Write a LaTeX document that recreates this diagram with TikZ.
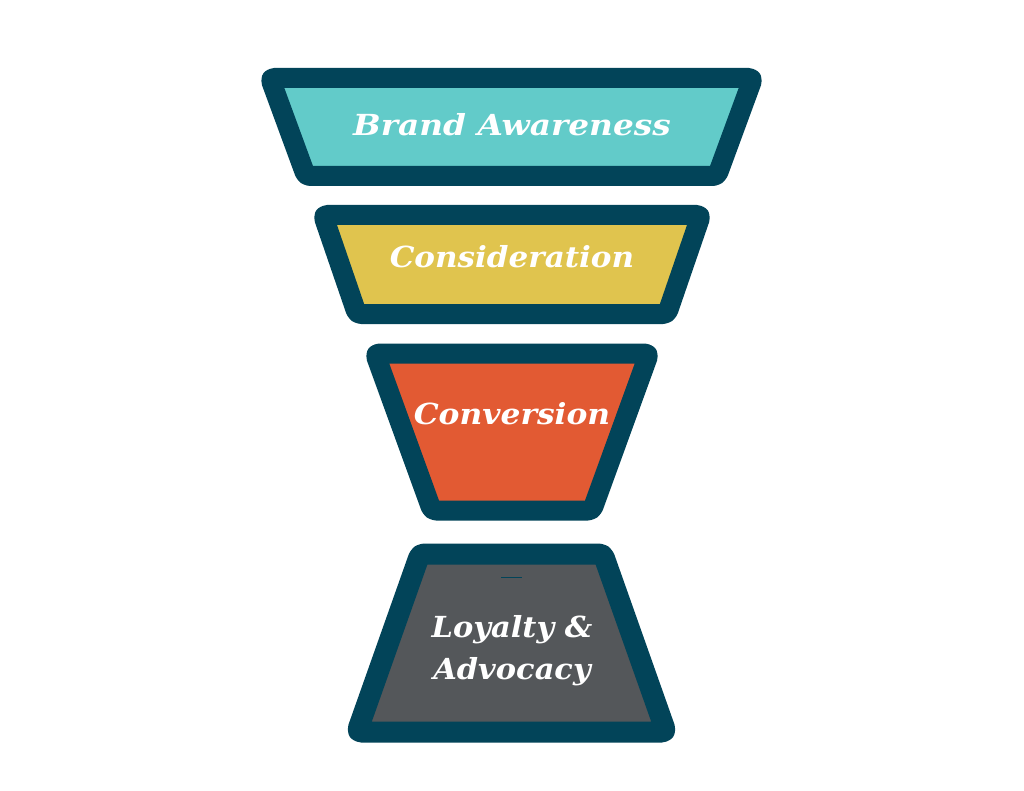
\documentclass[tikz,border=0pt]{standalone}
\usepackage{fontspec}
\newfontfamily\funnelfont{DejaVu Serif}
\definecolor{navy}{RGB}{2,68,89}
\definecolor{tealc}{RGB}{98,203,201}
\definecolor{yellowc}{RGB}{224,196,78}
\definecolor{orangec}{RGB}{226,90,51}
\definecolor{greyc}{RGB}{84,87,90}
\tikzset{
  stage/.style={draw=navy, line width=20pt, line join=round, rounded corners=4pt},
  label/.style={text=white, font=\funnelfont\bfseries\itshape\fontsize{29}{34}\selectfont, inner sep=0pt, align=center}
}
\begin{document}
\begin{tikzpicture}[x=1pt,y=-1pt]
\useasboundingbox (0,0) rectangle (1024,791);
\fill[white] (0,0) rectangle (1024,791);
% stage 1
\draw[stage, fill=tealc] (270,78) -- (753,78) -- (717,176) -- (306,176) -- cycle;
\node[label] (t1) at (512,125) {\scalebox{1.13}[1]{Brand Awareness}};
% stage 2
\draw[stage, fill=yellowc] (323,215) -- (701,215) -- (667,314) -- (357,314) -- cycle;
\node[label] (t2) at (512,257) {\scalebox{1.07}[1]{Consideration}};
% stage 3
\draw[stage, fill=orangec] (375,353.5) -- (649,353.5) -- (592,510.5) -- (432,510.5) -- cycle;
\node[label] (t3) at (512,414) {\scalebox{1.08}[1]{Conversion}};
% stage 4
\draw[stage, line width=21pt, fill=greyc] (420,554) -- (603,554) -- (666,732) -- (357,732) -- cycle;
\draw[navy, line width=1pt] (501,577) -- (522,577);
\node[label, font=\funnelfont\bfseries\itshape\fontsize{29}{42}\selectfont] (t4) at (512,651) {\scalebox{1.05}[1]{Loyalty \&}\\\scalebox{1.05}[1]{Advocacy}};
\end{tikzpicture}
\end{document}
